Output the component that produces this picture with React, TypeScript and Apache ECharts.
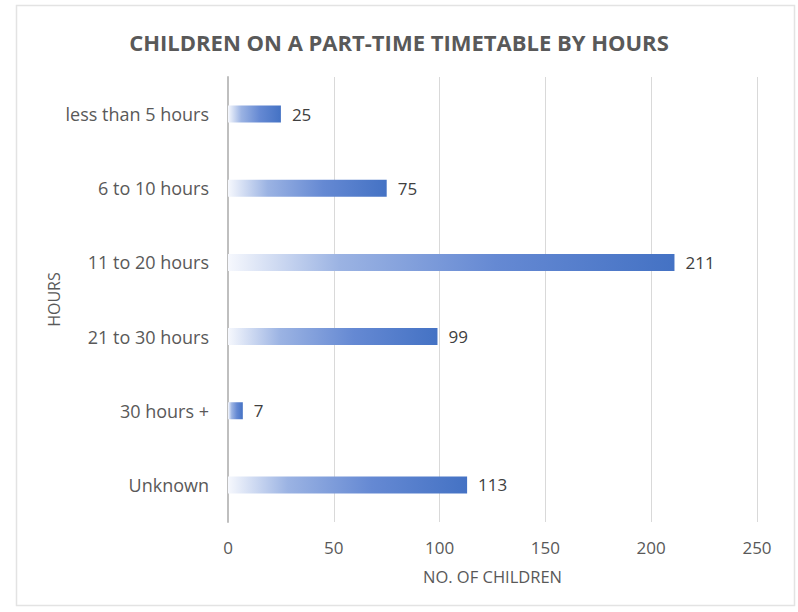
import React, { useEffect, useRef } from "react";
import * as echarts from "echarts";

const categories = ["less than 5 hours", "6 to 10 hours", "11 to 20 hours", "21 to 30 hours", "30 hours +", "Unknown"];
const values = [25, 75, 211, 99, 7, 113];
const xTicks = [0, 50, 100, 150, 200, 250];

export default function App() {
  const ref = useRef<HTMLDivElement>(null);
  useEffect(() => {
    const chart = echarts.init(ref.current!, null, { renderer: "svg" });
    const font = "Open Sans";
    chart.setOption({
      animation: false,
      backgroundColor: "#ffffff",
      title: {
        text: "CHILDREN ON A PART-TIME TIMETABLE BY HOURS",
        left: "center",
        top: 26,
        textStyle: { fontFamily: font, fontSize: 22, fontWeight: "bold", color: "#595959" },
      },
      graphic: [
        {
          type: "rect",
          shape: { x: 16.5, y: 5.5, width: 778, height: 600 },
          style: { fill: "none", stroke: "#E3E3E3", lineWidth: 1.5 },
          silent: true,
        },
      ],
      grid: { left: 228, right: 41, top: 77, bottom: 90, containLabel: false },
      xAxis: {
        type: "value",
        min: xTicks[0],
        max: xTicks[xTicks.length - 1],
        interval: 50,
        name: "NO. OF CHILDREN",
        nameLocation: "middle",
        nameGap: 46,
        nameMoveOverlap: false,
        nameTextStyle: { fontFamily: font, fontSize: 16.5, color: "#595959" },
        axisLine: { show: false },
        axisTick: { show: false },
        axisLabel: { fontFamily: font, fontSize: 17, color: "#595959", margin: 17 },
        splitLine: { show: true, lineStyle: { color: "#D9D9D9", width: 1 } },
      },
      yAxis: {
        type: "category",
        data: categories,
        inverse: true,
        name: "HOURS",
        nameLocation: "middle",
        nameGap: 166,
        nameRotate: 90,
        nameMoveOverlap: false,
        nameTextStyle: { fontFamily: font, fontSize: 16, color: "#595959" },
        axisLine: { show: true, lineStyle: { color: "#BFBFBF", width: 2 } },
        axisTick: { show: false },
        axisLabel: { fontFamily: font, fontSize: 18, color: "#595959", margin: 19 },
        splitLine: { show: false },
      },
      series: [
        {
          type: "bar",
          data: values,
          barWidth: 17,
          itemStyle: {
            color: new echarts.graphic.LinearGradient(0, 0, 1, 0, [
              { offset: 0, color: "#F6F8FD" },
              { offset: 0.25, color: "#9BB3E3" },
              { offset: 0.6, color: "#6589D3" },
              { offset: 1, color: "#4472C4" },
            ]),
          },
          label: {
            show: true,
            position: "right",
            distance: 11,
            fontFamily: font,
            fontSize: 17,
            color: "#404040",
          },
        },
      ],
    });
    return () => chart.dispose();
  }, []);
  return <div ref={ref} style={{ position: "absolute", left: 0, top: 0, width: 798, height: 612 }} />;
}
